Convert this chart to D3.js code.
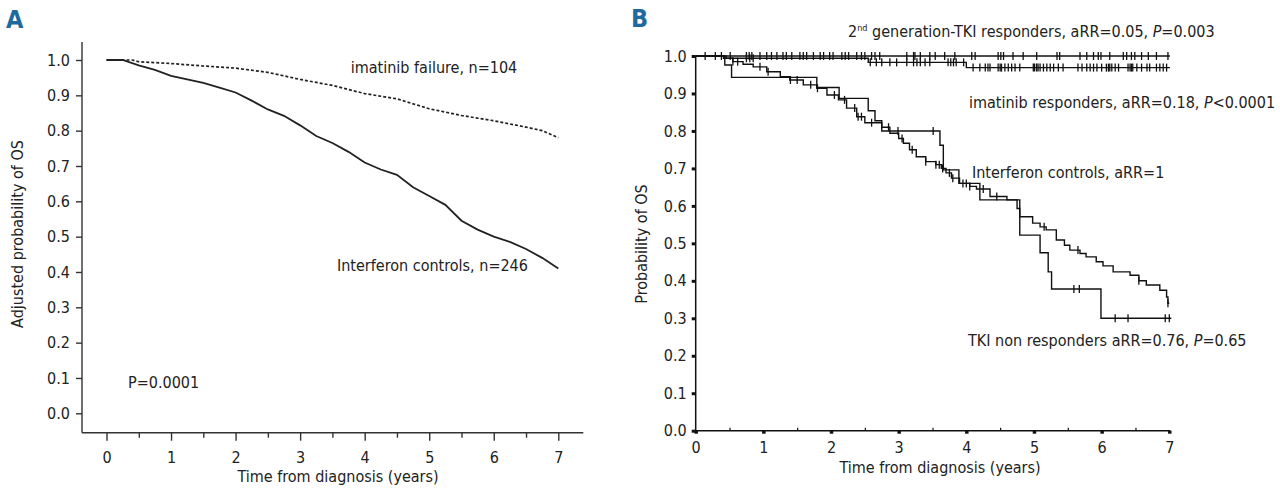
<!DOCTYPE html>
<html>
<head>
<meta charset="utf-8">
<script src="https://cdn.jsdelivr.net/npm/d3@7"></script>
<style>
  html, body { margin: 0; padding: 0; background: #fff; }
</style>
</head>
<body>
<div id="chart"></div>
<script>
// ticks
const yearTicks = [0, 1, 2, 3, 4, 5, 6, 7];
const halfYearTicks = [0.5, 1.5, 2.5, 3.5, 4.5, 5.5, 6.5];
const probTicks = [0, 0.1, 0.2, 0.3, 0.4, 0.5, 0.6, 0.7, 0.8, 0.9, 1.0];

// panel A: adjusted OS
const aImatFailT = [0, 0.4, 0.5, 1.0, 1.5, 2.0, 2.5, 3.0, 3.5, 4.0, 4.5, 5.0, 5.5, 6.0, 6.5, 6.75, 7.0];
const aImatFailS = [1, 1, 0.995, 0.99, 0.983, 0.977, 0.965, 0.945, 0.928, 0.905, 0.89, 0.862, 0.843, 0.828, 0.81, 0.80, 0.78];
const aIfnT = [0, 0.25, 0.5, 0.75, 1.0, 1.25, 1.5, 1.75, 2.0, 2.25, 2.5, 2.75, 3.0, 3.25, 3.5, 3.75, 4.0, 4.25, 4.5, 4.75, 5.0, 5.25, 5.5, 5.75, 6.0, 6.25, 6.5, 6.75, 7.0];
const aIfnS = [1, 1, 0.985, 0.972, 0.955, 0.945, 0.935, 0.922, 0.908, 0.885, 0.86, 0.842, 0.815, 0.785, 0.765, 0.74, 0.71, 0.69, 0.675, 0.64, 0.615, 0.59, 0.545, 0.52, 0.50, 0.485, 0.465, 0.44, 0.41];

// panel B: Kaplan-Meier OS, step starts and levels, censor times
const bTki2T = [0, 7.01];
const bTki2S = [1, 1];
const bTki2Cens = [0.14, 0.29, 0.38, 0.51, 0.75, 0.79, 0.83, 0.95, 1.05, 1.12, 1.2, 1.29, 1.34, 1.42, 1.54, 1.59, 1.64, 1.74, 1.84, 1.89, 1.98, 2.03, 2.16, 2.21, 2.26, 2.38, 2.45, 2.5, 2.6, 2.65, 2.72, 3.12, 3.22, 3.24, 3.32, 3.46, 3.54, 3.68, 3.83, 4.08, 4.13, 4.47, 4.51, 4.55, 4.69, 4.84, 5.04, 5.34, 5.38, 5.68, 5.78, 5.88, 5.95, 5.99, 6.12, 6.32, 6.37, 6.44, 6.49, 6.59, 6.69, 6.81, 6.98];

const bImatRespT = [0, 0.45, 2.55, 4.0, 7.01];
const bImatRespS = [1, 0.994, 0.983, 0.969, 0.969];
const bImatRespCens = [0.75, 0.8, 0.85, 2.58, 2.67, 2.75, 2.87, 2.97, 3.12, 3.22, 3.27, 3.32, 3.39, 3.46, 3.73, 3.77, 3.81, 3.85, 3.96, 4.1, 4.2, 4.28, 4.32, 4.35, 4.47, 4.5, 4.52, 4.57, 4.62, 4.67, 4.72, 4.79, 4.99, 5.01, 5.04, 5.06, 5.09, 5.14, 5.19, 5.24, 5.29, 5.36, 5.43, 5.65, 5.71, 5.78, 5.83, 5.88, 5.93, 6.0, 6.07, 6.1, 6.12, 6.15, 6.2, 6.25, 6.39, 6.42, 6.44, 6.46, 6.52, 6.59, 6.67, 6.71, 6.81, 6.86, 6.91, 6.96];

const bIfnT = [0, 0.41, 0.55, 0.7, 0.85, 1.05, 1.25, 1.39, 1.59, 1.79, 1.94, 2.11, 2.23, 2.38, 2.5, 2.75, 2.87, 3.0, 3.07, 3.16, 3.26, 3.4, 3.55, 3.63, 3.7, 3.78, 3.9, 4.05, 4.15, 4.35, 4.6, 4.75, 4.79, 4.98, 5.09, 5.18, 5.33, 5.45, 5.53, 5.68, 5.77, 5.92, 6.02, 6.17, 6.42, 6.55, 6.66, 6.86, 6.96, 6.98, 7.0];
const bIfnS = [1, 0.994, 0.985, 0.978, 0.971, 0.958, 0.945, 0.936, 0.923, 0.914, 0.896, 0.883, 0.861, 0.838, 0.822, 0.81, 0.794, 0.78, 0.767, 0.75, 0.731, 0.718, 0.71, 0.70, 0.688, 0.674, 0.66, 0.652, 0.645, 0.625, 0.616, 0.593, 0.571, 0.554, 0.544, 0.536, 0.509, 0.495, 0.482, 0.473, 0.464, 0.451, 0.44, 0.424, 0.415, 0.40, 0.389, 0.375, 0.357, 0.34, 0.34];
const bIfnCens = [0.55, 0.62, 0.95, 1.07, 1.4, 1.5, 1.7, 1.8, 2.05, 2.2, 2.35, 2.4, 2.45, 2.6, 2.85, 3.05, 3.2, 3.4, 3.55, 3.6, 3.65, 3.75, 3.8, 3.95, 4.0, 4.05, 4.25, 4.45, 5.15, 5.65, 6.55, 6.98];

const bNonRespT = [0, 0.43, 0.53, 1.79, 2.12, 2.55, 2.65, 2.75, 3.61, 3.66, 3.89, 4.2, 4.79, 5.09, 5.21, 5.26, 5.99, 7.03];
const bNonRespS = [1, 0.976, 0.943, 0.916, 0.887, 0.854, 0.827, 0.80, 0.762, 0.696, 0.66, 0.616, 0.522, 0.475, 0.424, 0.378, 0.30, 0.30];
const bNonRespCens = [2.99, 3.51, 5.59, 5.67, 6.2, 6.39, 6.94, 7.0];

const FONT = "'Liberation Sans Narrow','DejaVu Sans Condensed','Arial Narrow',sans-serif";
const INK = "#222";
const BLUE = "#1e6a9e";
const FS = 16;

const width = 1280;
const height = 497;

const svg = d3.select("#chart")
  .append("svg")
  .attr("width", width)
  .attr("height", height)
  .attr("font-family", FONT);

function stepAt(ts, ss, t) {
  let v = ss[0];
  for (let i = 0; i < ts.length; i++) if (ts[i] <= t) v = ss[i];
  return v;
}

// ---------- panel A ----------
const xA = d3.scaleLinear().domain([0, 7]).range([106.5, 558.3]);
const yA = d3.scaleLinear().domain([0, 1]).range([413.3, 60]);
const axisYA = 432.7, axisXA = 82;

const gA = svg.append("g");

gA.append("line")
  .attr("x1", axisXA).attr("x2", axisXA)
  .attr("y1", yA(1) - 18).attr("y2", axisYA)
  .attr("stroke", "#333").attr("stroke-width", 1.4);
gA.append("line")
  .attr("x1", axisXA).attr("x2", xA(7) + 25)
  .attr("y1", axisYA).attr("y2", axisYA)
  .attr("stroke", "#333").attr("stroke-width", 1.4);

gA.append("g")
  .attr("transform", `translate(${axisXA},0)`)
  .call(d3.axisLeft(yA).tickValues(probTicks).tickFormat(d3.format(".1f")).tickSize(6).tickPadding(6))
  .call(g => g.select(".domain").remove())
  .call(g => g.selectAll("line").attr("stroke", "#333").attr("stroke-width", 1.4))
  .call(g => g.selectAll("text").attr("font-family", FONT).attr("font-size", FS).attr("fill", INK));

gA.append("g")
  .attr("transform", `translate(0,${axisYA})`)
  .call(d3.axisBottom(xA).tickValues(yearTicks).tickFormat(d3.format("d")).tickSize(8).tickPadding(11))
  .call(g => g.select(".domain").remove())
  .call(g => g.selectAll("line").attr("stroke", "#333").attr("stroke-width", 1.4))
  .call(g => g.selectAll("text").attr("font-family", FONT).attr("font-size", FS).attr("fill", INK));

gA.append("g")
  .attr("transform", `translate(0,${axisYA})`)
  .call(d3.axisBottom(xA).tickValues(halfYearTicks).tickFormat("").tickSize(5))
  .call(g => g.select(".domain").remove())
  .call(g => g.selectAll("line").attr("stroke", "#333").attr("stroke-width", 1.4));

const lineA = (ts, ss) => d3.line().x((d, i) => xA(ts[i])).y((d, i) => yA(ss[i]))(ts);

gA.append("path")
  .attr("d", lineA(aImatFailT, aImatFailS))
  .attr("fill", "none").attr("stroke", INK).attr("stroke-width", 1.7)
  .attr("stroke-dasharray", "3,2");
gA.append("path")
  .attr("d", lineA(aIfnT, aIfnS))
  .attr("fill", "none").attr("stroke", INK).attr("stroke-width", 1.8);

gA.append("text").attr("x", 350.7).attr("y", 73).attr("font-size", FS).attr("fill", INK)
  .text("imatinib failure, n=104");
gA.append("text").attr("x", 337).attr("y", 270.5).attr("font-size", FS).attr("fill", INK)
  .text("Interferon controls, n=246");
gA.append("text").attr("x", 128).attr("y", 387.5).attr("font-size", FS).attr("fill", INK)
  .text("P=0.0001");

gA.append("text")
  .attr("text-anchor", "middle")
  .attr("x", 338).attr("y", 482)
  .attr("font-size", FS).attr("fill", INK)
  .text("Time from diagnosis (years)");
gA.append("text")
  .attr("text-anchor", "middle")
  .attr("transform", "translate(23,234) rotate(-90)")
  .attr("font-size", FS).attr("fill", INK)
  .text("Adjusted probability of OS");

svg.append("text").attr("x", 6).attr("y", 28)
  .attr("font-size", 25).attr("font-weight", "bold").attr("fill", BLUE)
  .text("A");

// ---------- panel B ----------
const xB = d3.scaleLinear().domain([0, 7]).range([695.7, 1169.3]);
const yB = d3.scaleLinear().domain([0, 1]).range([430.7, 56]);

const gB = svg.append("g");

gB.append("line")
  .attr("x1", xB(0)).attr("x2", xB(0))
  .attr("y1", yB(1)).attr("y2", yB(0))
  .attr("stroke", "#111").attr("stroke-width", 1.5);
gB.append("line")
  .attr("x1", xB(0)).attr("x2", xB(7) + 1)
  .attr("y1", yB(0)).attr("y2", yB(0))
  .attr("stroke", "#111").attr("stroke-width", 1.5);

gB.append("g")
  .attr("transform", `translate(${xB(0)},0)`)
  .call(d3.axisLeft(yB).tickValues(probTicks).tickFormat(d3.format(".1f")).tickSize(4).tickPadding(5))
  .call(g => g.select(".domain").remove())
  .call(g => g.selectAll("line").attr("stroke", "#111").attr("stroke-width", 3))
  .call(g => g.selectAll("text").attr("font-family", FONT).attr("font-size", FS).attr("fill", INK));

gB.append("g")
  .attr("transform", `translate(0,${yB(0)})`)
  .call(d3.axisBottom(xB).tickValues(yearTicks).tickFormat(d3.format("d")).tickSize(3).tickPadding(8))
  .call(g => g.select(".domain").remove())
  .call(g => g.selectAll("line").attr("stroke", "#111").attr("stroke-width", 3.5))
  .call(g => g.selectAll("text").attr("font-family", FONT).attr("font-size", FS).attr("fill", INK));

gB.append("g")
  .attr("transform", `translate(0,${yB(0)})`)
  .call(d3.axisTop(xB).tickValues(halfYearTicks).tickFormat("").tickSize(3))
  .call(g => g.select(".domain").remove())
  .call(g => g.selectAll("line").attr("stroke", "#111").attr("stroke-width", 1.2));

const lineB = (ts, ss) => d3.line().curve(d3.curveStepAfter)
  .x((d, i) => xB(ts[i])).y((d, i) => yB(ss[i]))(ts);

const seriesB = [
  { t: bNonRespT, s: bNonRespS, c: bNonRespCens },
  { t: bIfnT, s: bIfnS, c: bIfnCens },
  { t: bImatRespT, s: bImatRespS, c: bImatRespCens },
  { t: bTki2T, s: bTki2S, c: bTki2Cens },
];

seriesB.forEach(sr => {
  gB.append("path")
    .attr("d", lineB(sr.t, sr.s))
    .attr("fill", "none").attr("stroke", "#111").attr("stroke-width", 1.4);
  gB.append("g")
    .selectAll("line")
    .data(sr.c)
    .enter()
    .append("line")
    .attr("x1", d => xB(d)).attr("x2", d => xB(d))
    .attr("y1", d => yB(stepAt(sr.t, sr.s, d)) - 4)
    .attr("y2", d => yB(stepAt(sr.t, sr.s, d)) + 4)
    .attr("stroke", "#111").attr("stroke-width", 1.3);
});

const tLab1 = gB.append("text").attr("x", 848).attr("y", 37).attr("font-size", FS).attr("fill", INK);
tLab1.append("tspan").text("2");
tLab1.append("tspan").attr("font-size", 9).attr("dy", -6).text("nd");
tLab1.append("tspan").attr("dy", 6).text(" generation-TKI responders, aRR=0.05, ");
tLab1.append("tspan").attr("font-style", "italic").text("P");
tLab1.append("tspan").text("=0.003");

const tLab2 = gB.append("text").attr("x", 969).attr("y", 107.5).attr("font-size", FS).attr("fill", INK);
tLab2.append("tspan").text("imatinib responders, aRR=0.18, ");
tLab2.append("tspan").attr("font-style", "italic").text("P");
tLab2.append("tspan").text("<0.0001");

gB.append("text").attr("x", 972).attr("y", 178.3).attr("font-size", FS).attr("fill", INK)
  .text("Interferon controls, aRR=1");

const tLab4 = gB.append("text").attr("x", 968).attr("y", 346).attr("font-size", FS).attr("fill", INK);
tLab4.append("tspan").text("TKI non responders aRR=0.76, ");
tLab4.append("tspan").attr("font-style", "italic").text("P");
tLab4.append("tspan").text("=0.65");

gB.append("text")
  .attr("text-anchor", "middle")
  .attr("x", 940).attr("y", 473)
  .attr("font-size", FS).attr("fill", INK)
  .text("Time from diagnosis (years)");
gB.append("text")
  .attr("text-anchor", "middle")
  .attr("transform", "translate(647,244) rotate(-90)")
  .attr("font-size", FS).attr("fill", INK)
  .text("Probability of OS");

svg.append("text").attr("x", 631).attr("y", 27)
  .attr("font-size", 25).attr("font-weight", "bold").attr("fill", BLUE)
  .text("B");
</script>
</body>
</html>
